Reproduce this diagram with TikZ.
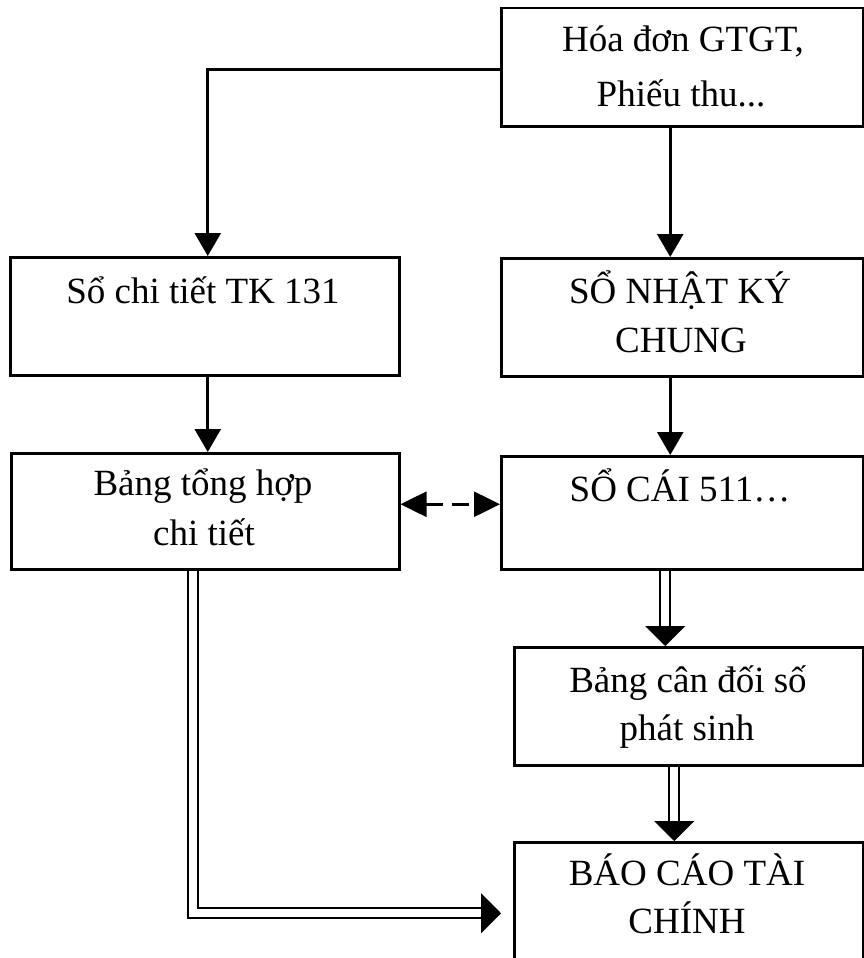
\documentclass[tikz,border=0pt]{standalone}
\usepackage{fontspec}
\setmainfont{Liberation Serif}
\usetikzlibrary{arrows.meta,calc}

\tikzset{
  box/.style={draw=black, line width=2.5pt, fill=white, inner sep=0pt, anchor=north west},
  lbl/.style={inner sep=0pt, anchor=base, font=\fontsize{37}{49}\selectfont},
  arr/.style={draw=black, line width=2.6pt, -{Triangle[width=26pt,length=23pt]}},
  dasharr/.style={draw=black, line width=2.6pt, dash pattern=on 17pt off 9pt,
    {Triangle[width=25pt,length=26pt]}-{Triangle[width=25pt,length=26pt]}},
  dblarr/.style={draw=black, line width=2pt, double=white, double distance=8pt,
    -{Triangle[width=40pt,length=20pt]}}
}

\begin{document}
\begin{tikzpicture}[x=1pt,y=-1pt]
  \useasboundingbox (0,0) rectangle (864,958);
  \clip (0,0) rectangle (864,958);

  % boxes
  \node[box, minimum width=362pt, minimum height=118pt] (src)   at (500,7)   {};
  \node[box, minimum width=389pt, minimum height=118pt] (ct)    at (9,256)   {};
  \node[box, minimum width=362pt, minimum height=118pt] (nkc)   at (500,257) {};
  \node[box, minimum width=388pt, minimum height=116pt] (thct)  at (10,452)  {};
  \node[box, minimum width=362pt, minimum height=113pt] (socai) at (500,455) {};
  \node[box, minimum width=349pt, minimum height=118pt] (cdps)  at (513,646) {};
  \node[box, minimum width=349pt, minimum height=121pt] (bctc)  at (513,841) {};

  % labels
  \node[lbl] (srcA)   at (683,52)  {Hóa đơn GTGT,};
  \node[lbl] (srcB)   at (681,106) {Phiếu thu...};
  \node[lbl] (ctA)    at (203,303) {Sổ chi tiết TK 131};
  \node[lbl] (nkcA)   at (680,303) {SỔ NHẬT KÝ};
  \node[lbl] (nkcB)   at (681,352) {CHUNG};
  \node[lbl] (thctA)  at (203,495) {Bảng tổng hợp};
  \node[lbl] (thctB)  at (204,545) {chi tiết};
  \node[lbl] (socaiA) at (680,501) {SỔ CÁI 511…};
  \node[lbl] (cdpsA)  at (688,692) {Bảng cân đối số};
  \node[lbl] (cdpsB)  at (687,740) {phát sinh};
  \node[lbl] (bctcA)  at (687,885) {BÁO CÁO TÀI};
  \node[lbl] (bctcB)  at (687,933) {CHÍNH};

  % single-line connectors
  \draw[arr] ([yshift=-2pt]src.west) -| ([xshift=3pt]ct.north);
  \draw[arr] ([xshift=-12pt]src.south) -- ([xshift=-12pt]src.south |- nkc.north);
  \draw[arr] ([xshift=3pt]ct.south) -- ([xshift=3pt]ct.south |- thct.north);
  \draw[arr] ([xshift=-12pt]nkc.south) -- ([xshift=-12pt]nkc.south |- socai.north);

  % dashed two-way link
  \draw[dasharr] ([yshift=7pt]thct.east) -- ([yshift=7pt]thct.east -| socai.west);

  % double-line connectors
  \draw[dblarr] ([xshift=-17pt]socai.south) -- ([xshift=-17pt]socai.south |- cdps.north);
  \draw[dblarr] ([xshift=-14.5pt]cdps.south) -- ([xshift=-14.5pt]cdps.south |- bctc.north);
  \draw[dblarr, shorten >=12pt] ([xshift=-12.5pt]thct.south) |- ([yshift=-10.5pt]bctc.west);
\end{tikzpicture}
\end{document}
